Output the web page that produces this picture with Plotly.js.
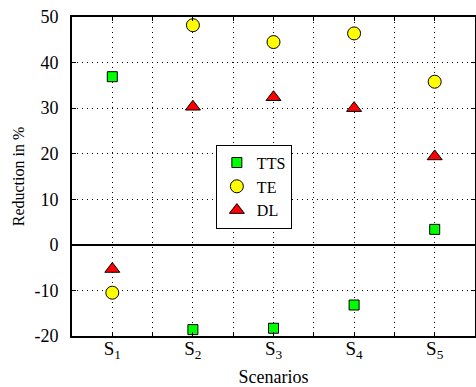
<!DOCTYPE html>
<html>
<head>
<meta charset="utf-8">
<script src="https://cdn.plot.ly/plotly-3.0.1.min.js"></script>
<style>html,body{margin:0;padding:0;background:#fff;}#chart{width:476px;height:387px;}</style>
</head>
<body>
<div id="chart"></div>
<script>
const scenarios = [1, 2, 3, 4, 5];
const tickLabels = ["S<sub>1</sub>", "S<sub>2</sub>", "S<sub>3</sub>", "S<sub>4</sub>", "S<sub>5</sub>"];
const yTickVals = [-20, -10, 0, 10, 20, 30, 40, 50];
const yTickText = ["-20", "-10", "0", "10", "20", "30", "40", "50"];
const tts = [36.9, -18.6, -18.3, -13.2, 3.4];
const te = [-10.5, 48.2, 44.5, 46.4, 35.8];
const dl = [-5.3, 30.3, 32.4, 30.0, 19.4];

const font = "'Liberation Serif', 'Times New Roman', serif";
const dots = "1px,4px";

const traces = [
  {x: scenarios, y: tts, name: "TTS", mode: "markers", type: "scatter",
   marker: {symbol: "square", size: 10, color: "#00ff00", line: {color: "#000", width: 1}}},
  {x: scenarios, y: te, name: "TE", mode: "markers", type: "scatter",
   marker: {symbol: "circle", size: 13, color: "#ffff00", line: {color: "#000", width: 1}}},
  {x: scenarios, y: dl, name: "DL", mode: "markers", type: "scatter",
   marker: {symbol: "triangle-up", size: 13, color: "#ff0000", line: {color: "#000", width: 1}}}
];

const layout = {
  width: 476, height: 387,
  margin: {l: 72, r: 1, t: 17, b: 51},
  paper_bgcolor: "#fff", plot_bgcolor: "#fff",
  font: {family: font, size: 16, color: "#000"},
  showlegend: true,
  legend: {x: 0.357, y: 0.6, xanchor: "left", yanchor: "top",
           bordercolor: "#000", borderwidth: 1, bgcolor: "#fff",
           font: {family: font, size: 16, color: "#000"},
           itemwidth: 30, tracegroupgap: 0},
  xaxis: {
    range: [0.5, 5.5], tickvals: scenarios, ticktext: tickLabels,
    showline: true, linecolor: "#000", linewidth: 2, mirror: "ticks",
    ticks: "inside", ticklen: 4, tickcolor: "#000", ticklabelstandoff: -6,
    showgrid: true, gridcolor: "#000", griddash: dots, gridwidth: 1,
    minor: {tick0: 0.5, dtick: 1, showgrid: true, gridcolor: "#000", griddash: dots, gridwidth: 1, ticks: "inside", ticklen: 4, tickcolor: "#000"},
    zeroline: false,
    tickfont: {family: font, size: 19, color: "#000"},
    title: {text: "Scenarios", font: {family: font, size: 18, color: "#000"}, standoff: 24}
  },
  yaxis: {
    range: [-20, 50], tickvals: yTickVals, ticktext: yTickText,
    showline: true, linecolor: "#000", linewidth: 2, mirror: "ticks",
    ticks: "inside", ticklen: 4, tickcolor: "#000", ticklabelstandoff: 8,
    showgrid: true, gridcolor: "#000", griddash: dots, gridwidth: 1,
    zeroline: true, zerolinecolor: "#000", zerolinewidth: 2,
    tickfont: {family: font, size: 18, color: "#000"},
    title: {text: "Reduction in %", font: {family: font, size: 16, color: "#000"}, standoff: 6}
  }
};

Plotly.newPlot("chart", traces, layout, {displayModeBar: false, staticPlot: true});
</script>
</body>
</html>
